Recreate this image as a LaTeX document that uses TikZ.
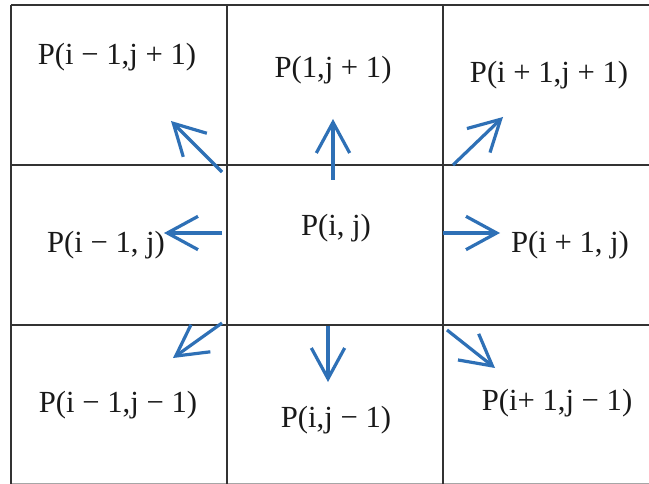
\documentclass[tikz,border=0pt]{standalone}
\usepackage{fontspec}
\setmainfont{Liberation Serif}
\usetikzlibrary{arrows.meta}
\definecolor{arrowblue}{RGB}{46,112,182}
\begin{document}
\begin{tikzpicture}[x=0.75pt,y=-0.75pt,
  gridline/.style={line width=1.1pt,draw=black!80},
  lbl/.style={inner sep=0pt,text=black!90,font=\fontsize{23}{27}\selectfont},
  arr/.style={draw=arrowblue,line width=2.4pt,-{Straight Barb[length=23pt,width=25pt,line width=2.4pt]}}]
\useasboundingbox (0,0) rectangle (649,484);
\fill[white] (0,0) rectangle (649,484);
% grid
\draw[gridline] (11,5) -- (649,5);
\draw[gridline] (11,165) -- (649,165);
\draw[gridline] (11,325) -- (649,325);
\draw[line width=0.6pt,draw=black!35] (11,483) -- (649,483);
\draw[gridline] (11,5) -- (11,484);
\draw[gridline] (227,5) -- (227,484);
\draw[gridline] (443,5) -- (443,484);
% labels
\node[lbl] (tl) at (117,57) {P(i − 1,j + 1)};
\node[lbl] (tc) at (333,70) {P(1,j + 1)};
\node[lbl] (tr) at (549,75) {P(i + 1,j + 1)};
\node[lbl] (ml) at (106,245) {P(i − 1, j)};
\node[lbl] (c)  at (336,228) {P(i, j)};
\node[lbl] (mr) at (570,245) {P(i + 1, j)};
\node[lbl] (bl) at (118,405) {P(i − 1,j − 1)};
\node[lbl] (bc) at (336,420) {P(i,j − 1)};
\node[lbl] (br) at (557,403) {P(i+ 1,j − 1)};
% arrow ends
\coordinate (uS) at (333,180); \coordinate (uE) at (333,119);
\coordinate (ulS) at (222,172); \coordinate (ulE) at (171,121);
\coordinate (urS) at (453,165); \coordinate (urE) at (503,117);
\coordinate (lS) at (222,233); \coordinate (lE) at (164,233);
\coordinate (rS) at (443,233); \coordinate (rE) at (500,233);
\coordinate (dlS) at (222,323); \coordinate (dlE) at (173,358);
\coordinate (dS) at (328,326); \coordinate (dE) at (328,382);
\coordinate (drS) at (447,330); \coordinate (drE) at (495,368);
\draw[arr] (uS) -- (uE);
\draw[arr] (ulS) -- (ulE);
\draw[arr] (urS) -- (urE);
\draw[arr] (lS) -- (lE);
\draw[arr] (rS) -- (rE);
\draw[arr] (dlS) -- (dlE);
\draw[arr] (dS) -- (dE);
\draw[arr] (drS) -- (drE);
\end{tikzpicture}
\end{document}
